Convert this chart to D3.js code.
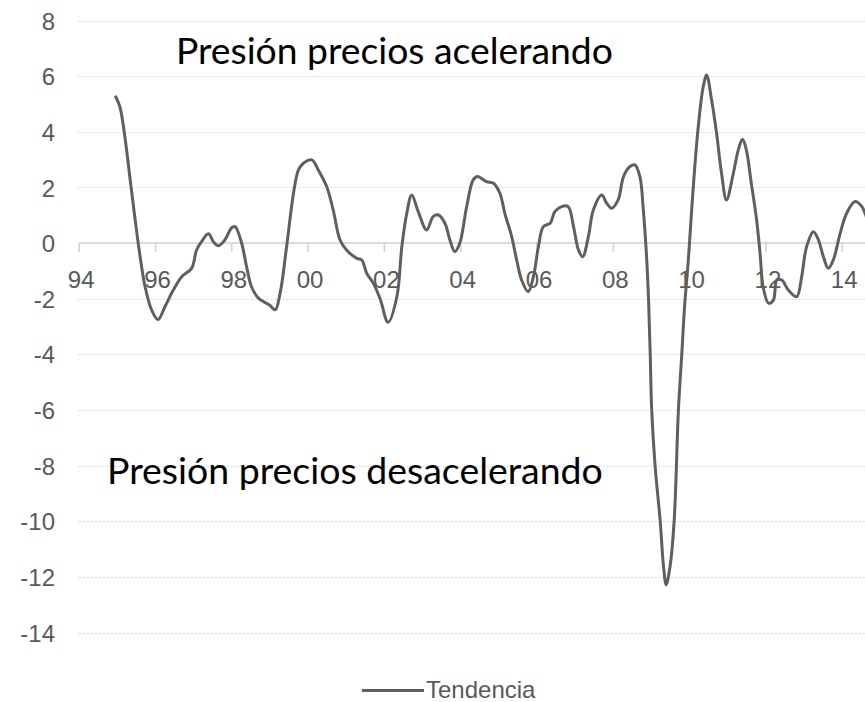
<!DOCTYPE html>
<html>
<head>
<meta charset="utf-8">
<script src="https://cdn.jsdelivr.net/npm/d3@7"></script>
<style>
  html, body { margin: 0; padding: 0; background: #ffffff; }
  svg { display: block; }
</style>
</head>
<body>
<svg id="chart" width="865" height="702"></svg>
<script>
// ---- data ----
const years = [
  1994.97, 1995.08, 1995.21, 1995.35, 1995.48, 1995.61, 1995.74, 1995.91, 1996.08, 1996.26,
  1996.48, 1996.70, 1996.96, 1997.09, 1997.22, 1997.40, 1997.53, 1997.66, 1997.83, 1998.01,
  1998.10, 1998.27, 1998.40, 1998.53, 1998.71, 1999.00, 1999.15, 1999.28, 1999.45, 1999.63,
  1999.76, 1999.89, 2000.11, 2000.28, 2000.50, 2000.67, 2000.85, 2001.02, 2001.29, 2001.42,
  2001.55, 2001.72, 2001.90, 2002.11, 2002.34, 2002.47, 2002.60, 2002.73, 2002.90, 2003.12,
  2003.29, 2003.43, 2003.60, 2003.73, 2003.86, 2003.99, 2004.17, 2004.34, 2004.45, 2004.69,
  2004.87, 2005.04, 2005.17, 2005.35, 2005.48, 2005.61, 2005.78, 2005.92, 2006.05, 2006.18,
  2006.36, 2006.48, 2006.66, 2006.83, 2006.97, 2007.10, 2007.21, 2007.36, 2007.49, 2007.71,
  2007.84, 2007.97, 2008.14, 2008.28, 2008.45, 2008.58, 2008.71, 2008.80, 2008.89, 2008.94,
  2008.98, 2009.02, 2009.11, 2009.24, 2009.33, 2009.40, 2009.50, 2009.61, 2009.72, 2009.81,
  2009.88, 2009.98, 2010.11, 2010.24, 2010.37, 2010.46, 2010.59, 2010.72, 2010.85, 2010.98,
  2011.16, 2011.29, 2011.40, 2011.50, 2011.63, 2011.77, 2011.86, 2011.94, 2012.08, 2012.21,
  2012.30, 2012.43, 2012.60, 2012.82, 2012.95, 2013.08, 2013.26, 2013.39, 2013.52, 2013.65,
  2013.78, 2013.96, 2014.13, 2014.35, 2014.53, 2014.61, 2014.70
];
const tendencia = [
  5.26, 4.90, 3.82, 2.27, 0.83, -0.49, -1.57, -2.40, -2.75, -2.29,
  -1.69, -1.21, -0.91, -0.25, 0.05, 0.33, 0.05, -0.10, 0.11, 0.55,
  0.59, 0.00, -0.85, -1.57, -1.98, -2.23, -2.40, -1.80, -0.13, 1.79,
  2.63, 2.87, 2.99, 2.63, 2.03, 1.19, 0.11, -0.25, -0.55, -0.61,
  -1.09, -1.44, -2.00, -2.85, -1.93, -0.13, 1.07, 1.73, 1.13, 0.47,
  0.95, 1.01, 0.71, 0.11, -0.31, 0.00, 1.31, 2.27, 2.39, 2.21,
  2.15, 1.79, 1.07, 0.23, -0.61, -1.33, -1.75, -1.21, -0.13, 0.59,
  0.71, 1.13, 1.31, 1.31, 0.59, -0.25, -0.49, 0.23, 1.19, 1.73,
  1.43, 1.25, 1.55, 2.39, 2.75, 2.81, 2.39, 1.19, -0.61, -2.15,
  -3.96, -6.00, -8.04, -9.95, -11.63, -12.29, -11.63, -9.95, -6.00, -3.96,
  -2.30, -0.61, 2.03, 4.18, 5.62, 6.04, 5.14, 3.95, 2.51, 1.55,
  2.51, 3.35, 3.73, 3.35, 2.15, 0.83, -0.37, -1.57, -2.16, -2.05,
  -1.33, -1.33, -1.69, -1.93, -1.21, -0.13, 0.41, 0.11, -0.49, -0.91,
  -0.61, 0.35, 1.07, 1.49, 1.31, 1.07, 0.75
];
const xTickYears = [1994, 1996, 1998, 2000, 2002, 2004, 2006, 2008, 2010, 2012, 2014];
const xTickLabels = ["94", "96", "98", "00", "02", "04", "06", "08", "10", "12", "14"];
const yTicks = [8, 6, 4, 2, 0, -2, -4, -6, -8, -10, -12, -14];
const seriesName = "Tendencia";
const annotations = ["Presión precios acelerando", "Presión precios desacelerando"];

// ---- layout ----
const svg = d3.select("#chart");
const W = 865, H = 702;
const plotLeft = 78.7;

const x = d3.scaleLinear().domain([1994, 2014]).range([78.7, 841.7]);
const y = d3.scaleLinear().domain([-14, 8]).range([632.5, 20.5]);

const labelFont = "'Liberation Sans', Arial, sans-serif";
const labelColor = "#595959";

// gridlines (dotted)
svg.append("g")
  .selectAll("line")
  .data(yTicks.filter(d => d !== 0))
  .join("line")
  .attr("x1", plotLeft).attr("x2", W)
  .attr("y1", d => Math.round(y(d)) + 0.5).attr("y2", d => Math.round(y(d)) + 0.5)
  .attr("stroke", "#d9d9d9")
  .attr("stroke-width", 1)
  .attr("stroke-dasharray", "2,2");

// y labels via axis
const yAxis = d3.axisLeft(y).tickValues(yTicks).tickSize(0).tickPadding(0)
  .tickFormat(d => d < 0 ? "-" + Math.abs(d) : String(d));
const gy = svg.append("g").attr("transform", "translate(55,0)").call(yAxis);
gy.select(".domain").remove();
gy.selectAll("text")
  .attr("font-family", labelFont)
  .attr("font-size", 24)
  .attr("fill", labelColor)
  .attr("dy", "0.36em");

// x axis along zero line
const xAxis = d3.axisBottom(x).tickValues(xTickYears).tickSize(9).tickPadding(0)
  .tickFormat((d, i) => xTickLabels[i]);
const gx = svg.append("g").attr("transform", `translate(0,${y(0)})`).call(xAxis);
gx.select(".domain")
  .attr("d", `M${plotLeft},0H${W}`)
  .attr("stroke", "#d0d0d0")
  .attr("stroke-width", 1.5);
gx.selectAll(".tick line").attr("stroke", "#d0d0d0").attr("stroke-width", 1.5);
gx.selectAll(".tick text")
  .attr("font-family", labelFont)
  .attr("font-size", 24)
  .attr("fill", labelColor)
  .attr("dx", 2)
  .attr("y", 0)
  .attr("dy", 45);

// series line
const data = years.map((yr, i) => ({ yr, v: tendencia[i] }));
const line = d3.line()
  .x(d => x(d.yr))
  .y(d => y(d.v))
  .curve(d3.curveCatmullRom.alpha(0.5));
svg.append("path")
  .datum(data)
  .attr("d", line)
  .attr("fill", "none")
  .attr("stroke", "#5f5f5f")
  .attr("stroke-width", 3)
  .attr("stroke-linejoin", "round")
  .attr("stroke-linecap", "round");

// annotations
function fitText(t, left, baseline, targetWidth) {
  const el = svg.append("text")
    .attr("x", left).attr("y", baseline)
    .attr("font-family", "Lato, 'Open Sans', sans-serif")
    .attr("font-size", 32)
    .attr("fill", "#000000")
    .text(t);
  const w = el.node().getComputedTextLength();
  if (w > 0) el.attr("font-size", 32 * targetWidth / w);
}
fitText(annotations[0], 176, 64, 437);
fitText(annotations[1], 107, 484, 496);

// legend
const lg = svg.append("g");
lg.append("line")
  .attr("x1", 362).attr("x2", 424)
  .attr("y1", 690.5).attr("y2", 690.5)
  .attr("stroke", "#5f5f5f").attr("stroke-width", 3);
lg.append("text")
  .attr("x", 426).attr("y", 698)
  .attr("font-family", labelFont)
  .attr("font-size", 24)
  .attr("fill", labelColor)
  .text(seriesName);
</script>
</body>
</html>
